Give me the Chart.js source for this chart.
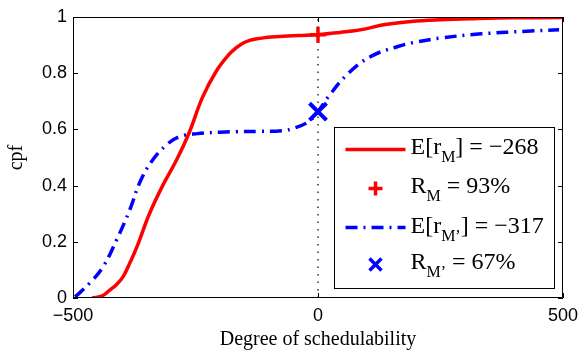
<!DOCTYPE html>
<html>
<head>
<meta charset="utf-8">
<script src="https://cdn.jsdelivr.net/npm/chart.js@4.4.0/dist/chart.umd.min.js"></script>
<style>
  html, body { margin: 0; padding: 0; background: #fff; }
</style>
</head>
<body>
<canvas id="c" width="585" height="354"></canvas>
<script>
// values
const redX = [-461, -440, -425, -411, -398, -384, -370, -344, -317, -289, -263, -236, -208, -182, -168, -155, -141, -127, -106, -86, -40, 0, 45, 89, 137, 190, 250, 320, 400, 500];
const redY = [0, 0.008, 0.028, 0.048, 0.075, 0.125, 0.18, 0.30, 0.40, 0.49, 0.588, 0.713, 0.806, 0.866, 0.889, 0.905, 0.916, 0.922, 0.927, 0.93, 0.934, 0.937, 0.945, 0.955, 0.973, 0.984, 0.99, 0.994, 0.997, 0.998];

const blueX = [-496, -492, -466, -439, -411, -384, -364, -340, -309, -283, -246, -200, -167, -120, -74, -46, -19, 0, 21, 62, 108, 163, 197, 250, 333, 434, 492];
const blueY = [0.005, 0.01, 0.053, 0.11, 0.207, 0.314, 0.41, 0.485, 0.545, 0.574, 0.585, 0.59, 0.592, 0.593, 0.595, 0.606, 0.628, 0.663, 0.716, 0.80, 0.86, 0.895, 0.91, 0.925, 0.94, 0.95, 0.955];

const markX = 0;
const redMarkY = 0.937;   // R_M = 93%
const blueMarkY = 0.663;  // R_M' = 67%

const xTicks = [-500, 0, 500];
const yTicks = [0, 0.2, 0.4, 0.6, 0.8, 1];

const legendRows = [
  [{ t: "E[r" }, { t: "M", sub: true }, { t: "] = \u2212268" }],
  [{ t: "R" }, { t: "M", sub: true }, { t: " = 93%" }],
  [{ t: "E[r" }, { t: "M\u2019", sub: true }, { t: "] = \u2212317" }],
  [{ t: "R" }, { t: "M\u2019", sub: true }, { t: " = 67%" }],
];

const RED = "#ff0000";
const BLUE = "#0000ff";
const BLUE_DASH = [12, 6, 2, 6];

function pts(xs, ys) {
  return xs.map((x, i) => ({ x, y: ys[i] }));
}

function drawRich(ctx, parts, x, y) {
  parts.forEach((p) => {
    ctx.font = p.sub ? "16px 'Liberation Serif'" : "24px 'Liberation Serif'";
    ctx.fillText(p.t, x, p.sub ? y + 8 : y);
    x += ctx.measureText(p.t).width;
  });
}

const matlabBox = {
  id: "matlabBox",
  afterDatasetsDraw(chart) {
    const { ctx, chartArea: a, scales } = chart;
    ctx.save();
    ctx.strokeStyle = "#000";
    ctx.lineWidth = 1;
    ctx.setLineDash([]);
    ctx.beginPath();
    ctx.rect(a.left + 0.5, a.top + 0.5, a.right - a.left - 1, a.bottom - a.top - 1);
    xTicks.forEach((v) => {
      const px = Math.round(scales.x.getPixelForValue(v)) + 0.5;
      ctx.moveTo(px, a.bottom); ctx.lineTo(px, a.bottom - 5);
      ctx.moveTo(px, a.top); ctx.lineTo(px, a.top + 5);
    });
    yTicks.forEach((v) => {
      const py = Math.round(scales.y.getPixelForValue(v)) + 0.5;
      ctx.moveTo(a.left, py); ctx.lineTo(a.left + 5, py);
      ctx.moveTo(a.right, py); ctx.lineTo(a.right - 5, py);
    });
    ctx.stroke();

    // legend box
    const L = Math.round(a.right - 229) + 0.5;
    const T = Math.round(a.top + 110) + 0.5;
    const W = 220, H = 161;
    ctx.fillStyle = "#fff";
    ctx.fillRect(L, T, W, H);
    ctx.strokeRect(L, T, W, H);

    const rowY = [26, 65, 105, 141];
    const sx0 = L + 11, sx1 = L + 71, mx = L + 41, tx = L + 76;

    ctx.lineWidth = 3.5;
    ctx.strokeStyle = RED;
    ctx.beginPath(); ctx.moveTo(sx0, T + rowY[0] - 4); ctx.lineTo(sx1, T + rowY[0] - 4); ctx.stroke();

    ctx.lineWidth = 3.5;
    ctx.beginPath();
    ctx.moveTo(mx - 7, T + rowY[1] - 4); ctx.lineTo(mx + 7, T + rowY[1] - 4);
    ctx.moveTo(mx, T + rowY[1] - 11); ctx.lineTo(mx, T + rowY[1] + 3);
    ctx.stroke();

    ctx.strokeStyle = BLUE;
    ctx.lineWidth = 3.5;
    ctx.setLineDash(BLUE_DASH);
    ctx.beginPath(); ctx.moveTo(sx0, T + rowY[2] - 5); ctx.lineTo(sx1, T + rowY[2] - 5); ctx.stroke();
    ctx.setLineDash([]);

    ctx.lineWidth = 3.5;
    const cy = T + rowY[3] - 4;
    ctx.beginPath();
    ctx.moveTo(mx - 6, cy - 6); ctx.lineTo(mx + 6, cy + 6);
    ctx.moveTo(mx + 6, cy - 6); ctx.lineTo(mx - 6, cy + 6);
    ctx.stroke();

    ctx.fillStyle = "#000";
    ctx.textBaseline = "alphabetic";
    legendRows.forEach((parts, i) => drawRich(ctx, parts, tx, T + rowY[i]));
    ctx.restore();
  },
};

new Chart(document.getElementById("c"), {
  type: "line",
  data: {
    datasets: [
      {
        data: [{ x: markX, y: redMarkY }],
        showLine: false,
        pointStyle: "cross",
        pointRadius: 8,
        pointBorderWidth: 3.5,
        borderColor: RED,
        backgroundColor: RED,
      },
      {
        data: [{ x: markX, y: blueMarkY }],
        showLine: false,
        pointStyle: "crossRot",
        pointRadius: 12,
        pointBorderWidth: 4,
        borderColor: BLUE,
        backgroundColor: BLUE,
      },
      {
        data: pts(redX, redY),
        borderColor: RED,
        borderWidth: 3.5,
        pointRadius: 0,
        tension: 0.4,
      },
      {
        data: pts(blueX, blueY),
        borderColor: BLUE,
        borderWidth: 3.5,
        borderDash: BLUE_DASH,
        pointRadius: 0,
        tension: 0.4,
      },
      {
        data: [{ x: markX, y: 0 }, { x: markX, y: 1 }],
        borderColor: "#000",
        borderWidth: 1.2,
        borderDash: [1.5, 6],
        pointRadius: 0,
      },
    ],
  },
  options: {
    responsive: false,
    animation: false,
    layout: { padding: { top: 17, right: 19, left: 0, bottom: 0 } },
    plugins: { legend: { display: false }, tooltip: { enabled: false } },
    scales: {
      x: {
        type: "linear",
        min: -500,
        max: 500,
        afterBuildTicks: (s) => { s.ticks = xTicks.map((v) => ({ value: v })); },
        afterFit: (s) => { s.height = 56; },
        grid: { display: false, drawTicks: false },
        border: { display: false },
        ticks: {
          padding: 7,
          color: "#000",
          font: { family: "'Liberation Sans'", size: 18 },
          maxRotation: 0,
          callback: (v) => String(v).replace("-", "\u2212"),
        },
        title: {
          display: true,
          text: "Degree of schedulability",
          color: "#000",
          font: { family: "'Liberation Serif'", size: 20 },
          padding: { top: 0, bottom: 2 },
        },
      },
      y: {
        min: 0,
        max: 1,
        afterBuildTicks: (s) => { s.ticks = yTicks.map((v) => ({ value: v })); },
        afterFit: (s) => { s.width = 73; },
        grid: { display: false, drawTicks: false },
        border: { display: false },
        ticks: {
          padding: 6,
          color: "#000",
          font: { family: "'Liberation Sans'", size: 18 },
          callback: (v) => String(Number(v.toFixed(1))),
        },
        title: {
          display: true,
          text: "cpf",
          color: "#000",
          font: { family: "'Liberation Serif'", size: 20 },
          padding: { top: 5, bottom: 0 },
        },
      },
    },
  },
  plugins: [matlabBox],
});
</script>
</body>
</html>
